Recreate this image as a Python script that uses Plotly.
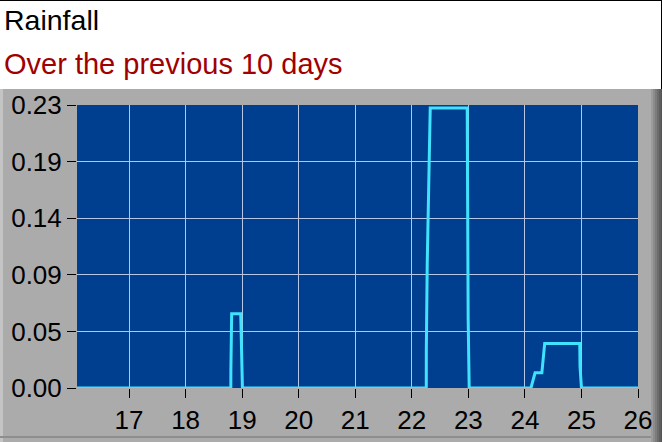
import plotly.graph_objects as go

# rainfall samples (day of month, inches)
days = [16.08, 18.80, 18.801, 18.815, 18.975, 18.99, 19.005,
        22.256, 22.257, 22.273, 22.309, 22.326, 22.98, 22.982, 22.997, 23.015,
        24.107, 24.18, 24.30, 24.35, 24.97, 24.975, 25.0, 26.0]
rain = [0, 0, 0.015, 0.061, 0.061, 0.015, 0,
        0, 0.03, 0.102, 0.189, 0.23, 0.23, 0.172, 0.057, 0,
        0, 0.0125, 0.0125, 0.0366, 0.0366, 0.0175, 0, 0]

x_ticks = [17, 18, 19, 20, 21, 22, 23, 24, 25, 26]
y_tick_labels = ["0.00", "0.05", "0.09", "0.14", "0.19", "0.23"]
y_max = 0.2325

title = "Rainfall"
subtitle = "Over the previous 10 days"

W, H = 662, 442
L, R, T, B = 77, 24, 105, 54
pw, ph = W - L - R, H - T - B


def px_x(px):
    return (px - L) / pw


def px_y(py):
    return (H - B - py) / ph


fig = go.Figure()
fig.add_trace(go.Scatter(
    x=days, y=rain, mode="lines",
    line=dict(color="#3fe3ff", width=3),
    hoverinfo="skip", showlegend=False,
))

shapes = [
    # gray frame below the header
    dict(type="rect", xref="paper", yref="paper", x0=px_x(0), x1=px_x(W),
         y0=px_y(H), y1=px_y(89), fillcolor="#ababab", line_width=0, layer="below"),
    # light strip on the left edge
    dict(type="rect", xref="paper", yref="paper", x0=px_x(0), x1=px_x(3),
         y0=px_y(H), y1=px_y(89), fillcolor="#c4c4c4", line_width=0, layer="below"),
    # plot area
    dict(type="rect", xref="paper", yref="paper", x0=0, x1=1, y0=0, y1=1,
         fillcolor="#003f8f", line_width=0, layer="below"),
]
# darker shading on the right edge
for i, c in enumerate(["#9c9c9c", "#8c8c8c", "#7c7c7c", "#6c6c6c", "#5e5e5e", "#555555"]):
    shapes.append(dict(type="rect", xref="paper", yref="paper",
                       x0=px_x(651 + i * 2), x1=px_x(653 + i * 2),
                       y0=px_y(H), y1=px_y(89), fillcolor=c, line_width=0, layer="below"))
# bottom shadow line
shapes.append(dict(type="rect", xref="paper", yref="paper", x0=px_x(0), x1=px_x(651),
                   y0=px_y(438), y1=px_y(436), fillcolor="#8e8e8e", line_width=0, layer="below"))
# black border top and right
shapes.append(dict(type="line", xref="paper", yref="paper", x0=px_x(0), x1=px_x(W),
                   y0=px_y(0.5), y1=px_y(0.5), line=dict(color="black", width=1)))
shapes.append(dict(type="line", xref="paper", yref="paper", x0=px_x(W - 0.5), x1=px_x(W - 0.5),
                   y0=px_y(0), y1=px_y(89), line=dict(color="black", width=1)))

font = "Arial, Liberation Sans, sans-serif"

fig.update_layout(
    width=W, height=H,
    margin=dict(l=L, r=R, t=T, b=B, autoexpand=False),
    paper_bgcolor="white",
    plot_bgcolor="rgba(0,0,0,0)",
    shapes=shapes,
    annotations=[
        dict(text=title, xref="paper", yref="paper", x=px_x(1.5), y=px_y(20),
             xanchor="left", yanchor="middle", showarrow=False,
             font=dict(family=font, size=28.5, color="black")),
        dict(text=subtitle, xref="paper", yref="paper", x=px_x(1.5), y=px_y(64),
             xanchor="left", yanchor="middle", showarrow=False,
             font=dict(family=font, size=29, color="#a00000")),
    ],
    xaxis=dict(
        range=[16.08, 26], tickvals=x_ticks, ticks="outside", ticklen=9,
        tickcolor="black", tickwidth=1, showgrid=True, gridcolor="#b8c6e4",
        gridwidth=1, zeroline=False, showline=False, automargin=False,
        tickfont=dict(family=font, size=26, color="black"),
    ),
    yaxis=dict(
        range=[0, y_max],
        tickvals=[y_max * i / 5 for i in range(6)], ticktext=y_tick_labels,
        ticks="outside", ticklen=9, tickcolor="black", tickwidth=1,
        showgrid=True, gridcolor="#b8c6e4", gridwidth=1, zeroline=False,
        showline=False, automargin=False,
        tickfont=dict(family=font, size=26, color="black"),
    ),
)

fig.write_html(
    "out.html",
    config=dict(displayModeBar=False),
    post_script="document.body.style.margin='0px';document.body.style.overflow='hidden';",
)
